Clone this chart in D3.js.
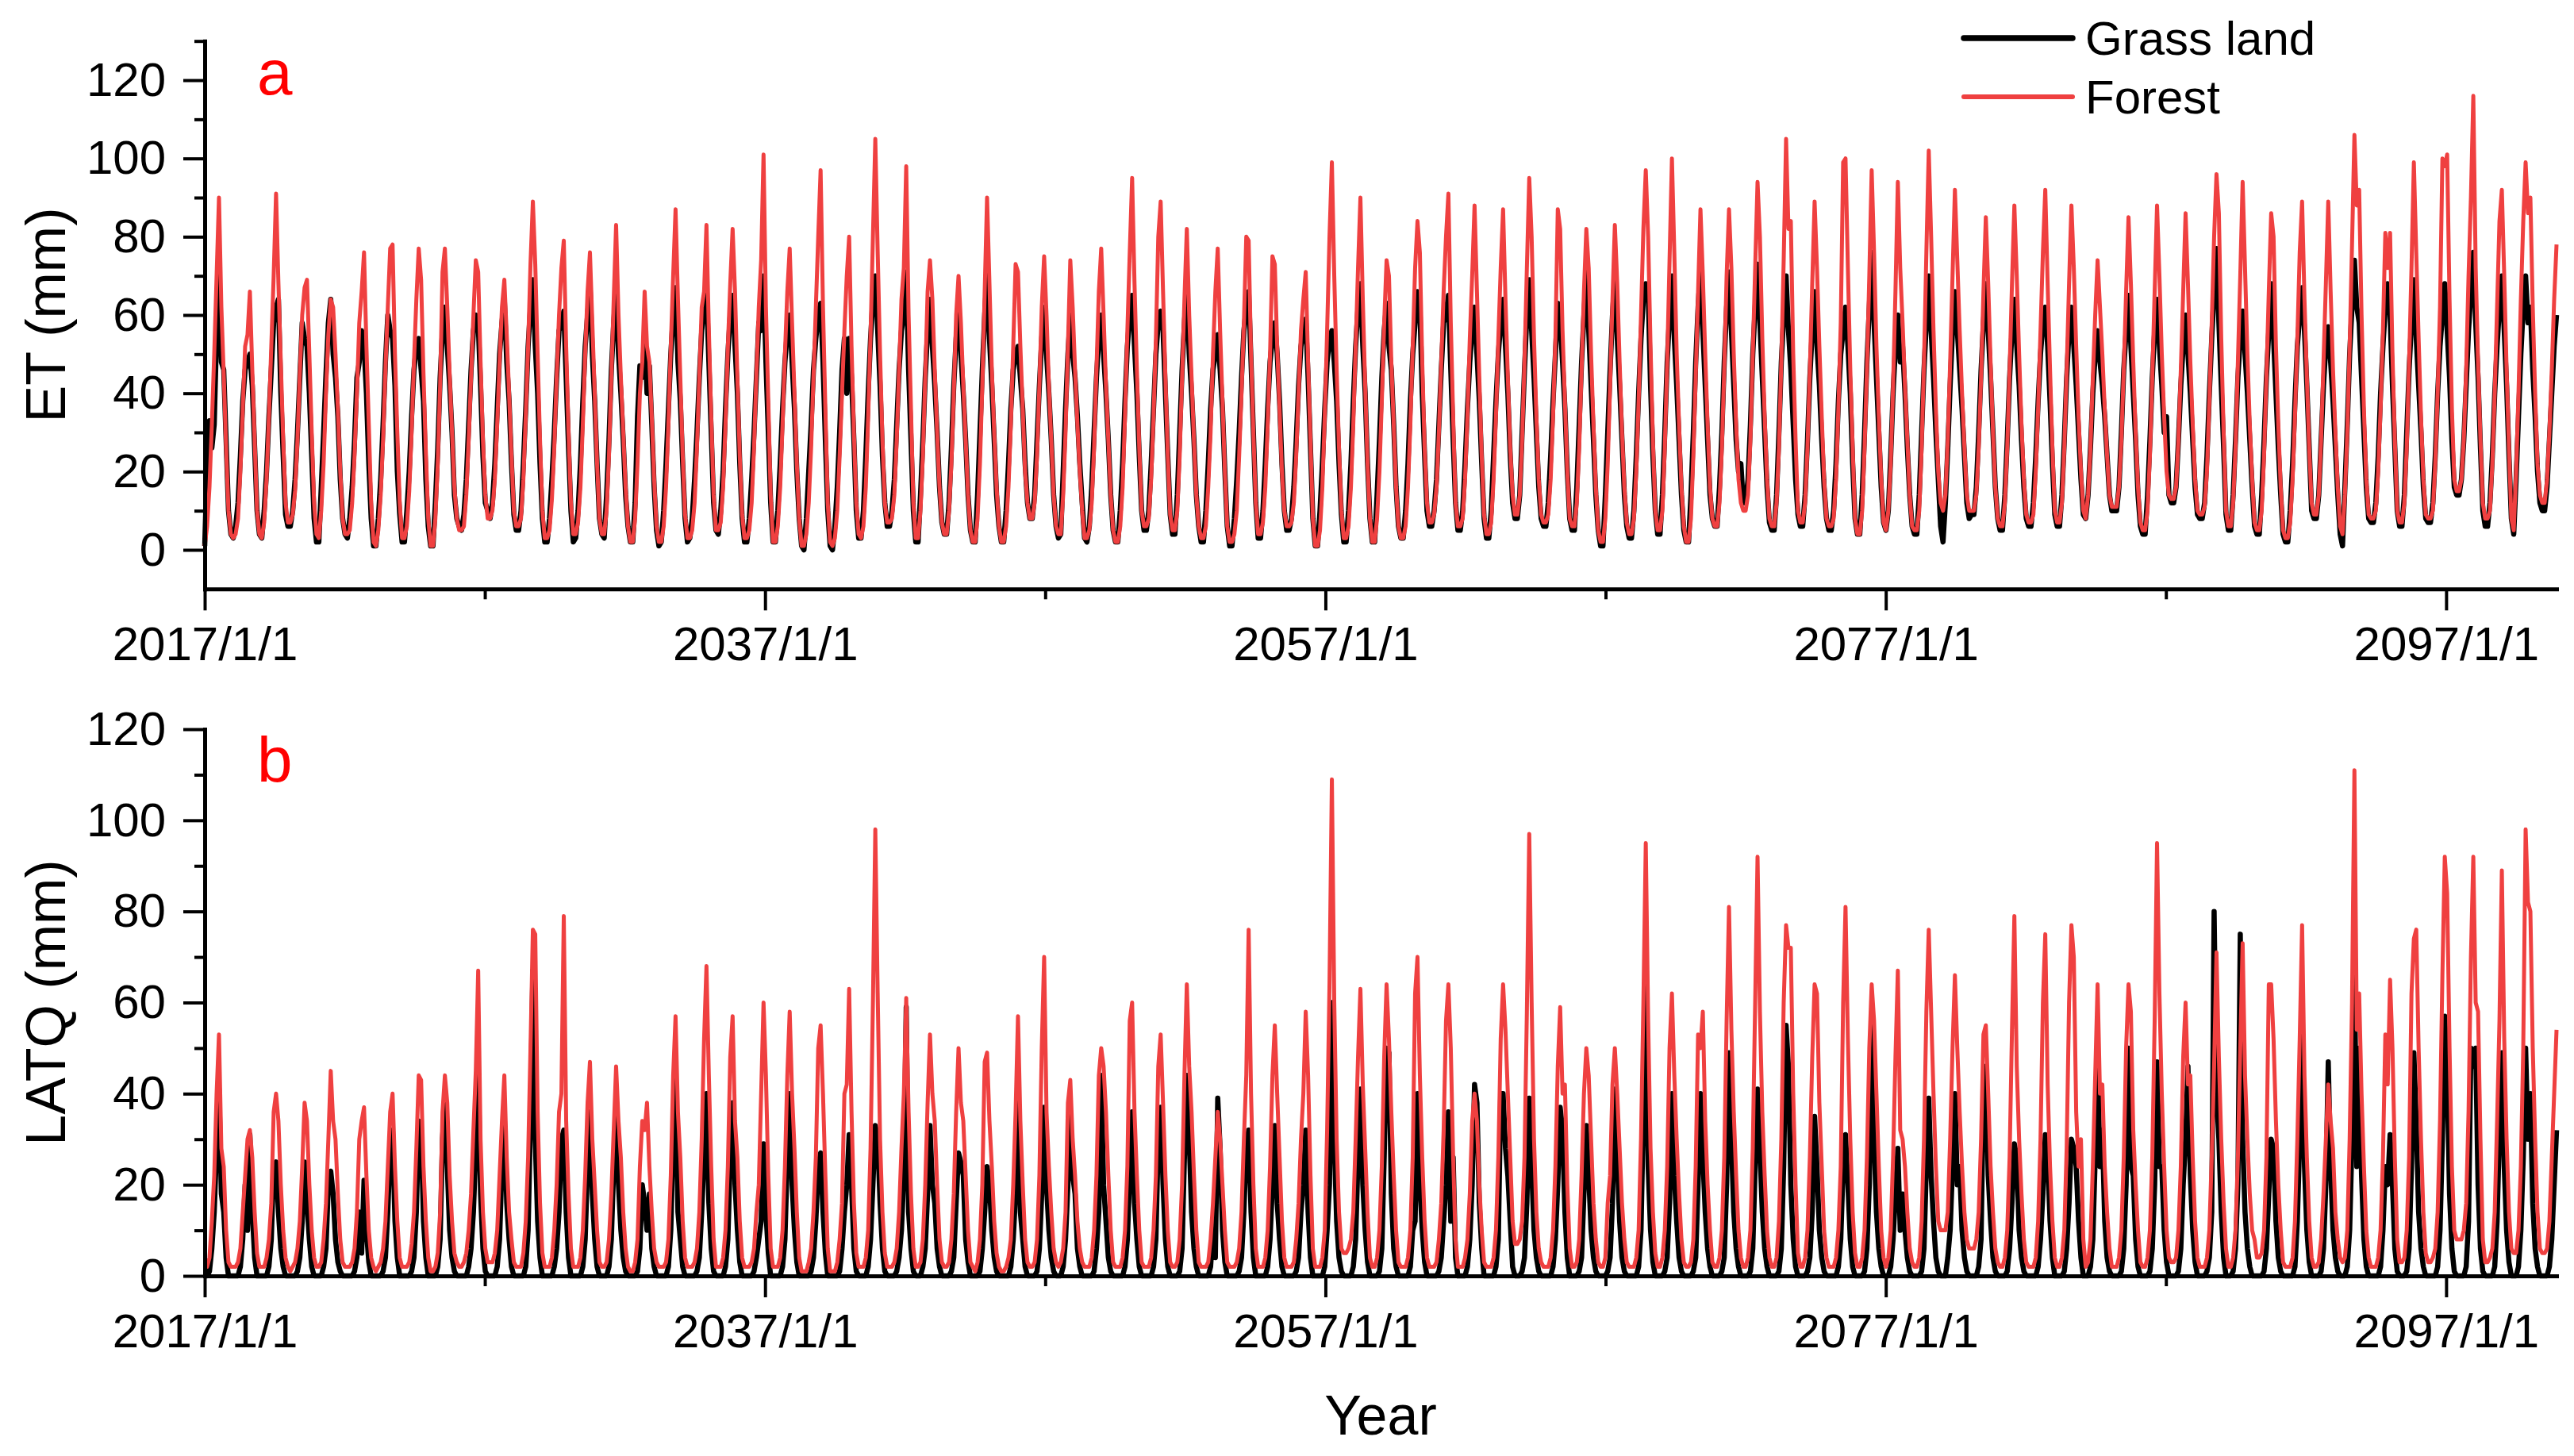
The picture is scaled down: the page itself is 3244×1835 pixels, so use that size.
<!DOCTYPE html>
<html>
<head>
<meta charset="utf-8">
<script src="https://cdn.jsdelivr.net/npm/d3@7"></script>
<style>
  html, body { margin: 0; background: #fff; }
  svg { display: block; }
  text { font-family: "Liberation Sans", Arial, sans-serif; }
</style>
</head>
<body>
<div id="chart"></div>
<script>
// monthly values, one row per year (2017 ...). the source figure places
// consecutive records 31 days apart, so the dates below follow that step.
const etGrass = [
  [1,22,33,26,32,55,72,48,46,28,10,4],
  [3,6,12,24,38,46,48,50,42,26,10,4],
  [3,10,20,34,46,58,62,64,40,24,9,6],
  [6,10,18,30,44,58,54,52,40,24,8,2],
  [2,16,30,45,58,64,50,44,34,18,8,4],
  [3,8,16,28,44,48,56,52,40,22,8,1],
  [1,8,18,32,48,60,56,54,42,20,9,2],
  [2,10,20,34,46,52,54,46,38,18,6,1],
  [1,12,26,44,56,62,52,42,30,14,8,6],
  [5,9,18,32,46,56,60,58,42,24,12,10],
  [8,12,22,36,50,58,64,48,38,22,9,5],
  [5,10,22,36,52,62,69,52,40,22,8,2],
  [2,8,18,30,44,56,58,61,44,26,10,2],
  [3,10,22,38,52,60,68,50,38,22,8,4],
  [3,14,28,46,58,67,50,40,28,14,6,2],
  [2,12,34,47,44,55,40,47,32,16,5,1],
  [2,10,22,36,50,60,67,48,38,22,8,2],
  [3,8,18,30,44,56,62,67,48,30,12,5],
  [4,10,20,36,50,60,65,52,40,22,8,2],
  [2,8,18,30,44,58,56,70,48,30,12,2],
  [2,10,22,36,48,56,60,48,36,20,8,1],
  [0,8,20,32,46,54,60,63,48,28,10,1],
  [0,6,16,30,46,54,40,54,44,28,10,3],
  [3,10,24,40,54,64,70,56,42,24,12,6],
  [6,10,18,32,46,56,60,71,46,28,10,2],
  [2,14,28,44,56,64,52,42,30,16,7,4],
  [4,12,26,42,54,62,50,40,28,14,5,2],
  [2,14,30,46,60,71,54,42,28,14,6,2],
  [2,10,22,36,46,50,52,44,36,22,12,8],
  [8,14,28,42,54,62,50,40,28,14,6,3],
  [4,20,36,50,60,50,44,34,22,12,3,2],
  [6,16,30,44,54,60,50,40,28,14,5,2],
  [2,10,22,38,52,60,65,52,40,24,10,5],
  [5,10,22,36,50,58,61,56,40,24,9,4],
  [4,14,30,46,58,68,50,40,28,14,6,2],
  [2,10,22,36,46,50,55,46,36,20,6,1],
  [1,8,18,30,44,56,62,66,48,30,12,3],
  [3,10,22,36,48,54,58,50,38,22,10,5],
  [5,8,16,28,42,52,56,59,44,26,8,1],
  [1,10,22,36,48,54,56,48,38,22,9,2],
  [2,10,22,38,52,62,68,52,40,22,8,2],
  [2,14,28,44,56,63,52,46,32,16,6,3],
  [3,10,22,38,50,58,66,62,40,24,10,6],
  [6,10,18,32,46,58,60,65,46,28,12,5],
  [5,10,22,36,48,56,62,50,38,22,8,3],
  [3,10,24,38,50,58,64,52,40,24,12,8],
  [8,14,30,46,60,69,56,44,30,16,8,6],
  [6,12,24,38,50,63,58,48,36,20,8,5],
  [5,16,32,48,60,71,56,42,28,14,5,1],
  [1,14,30,46,60,70,54,42,28,14,6,3],
  [3,10,24,40,54,64,68,66,42,24,10,4],
  [4,14,30,48,60,70,54,42,28,14,5,2],
  [2,14,30,48,62,72,56,42,28,14,8,6],
  [6,16,30,48,62,71,56,42,28,20,22,12],
  [12,18,32,50,62,73,58,44,30,16,7,5],
  [5,14,30,48,60,70,56,46,32,18,9,6],
  [6,14,28,44,56,66,52,42,28,16,8,5],
  [5,10,22,38,50,56,62,52,40,22,8,4],
  [4,14,30,48,62,76,58,44,30,16,7,5],
  [10,24,40,52,60,48,52,40,26,14,6,4],
  [4,14,30,46,58,70,56,44,30,18,6,2],
  [12,26,42,56,66,56,46,36,24,12,8,9],
  [9,16,30,46,58,68,56,44,30,16,8,5],
  [5,14,28,44,56,64,52,42,28,16,8,6],
  [6,12,24,38,50,58,62,52,38,22,9,6],
  [6,14,28,44,56,62,52,42,30,18,9,8],
  [14,26,40,50,56,48,42,34,24,14,10,10],
  [10,16,30,46,56,65,52,40,28,14,6,4],
  [4,14,28,44,56,64,52,42,30,34,14,12],
  [12,16,28,42,52,60,50,40,28,16,9,8],
  [8,12,24,40,54,66,77,58,42,26,9,5],
  [5,14,28,44,54,61,50,40,28,16,6,4],
  [4,14,28,44,56,68,54,40,26,14,4,2],
  [2,10,22,38,52,60,67,56,42,26,10,8],
  [8,14,28,42,52,57,48,38,26,14,4,1],
  [16,32,50,62,74,62,58,44,30,16,8,7],
  [7,12,24,40,52,62,68,60,42,26,10,6],
  [6,14,30,46,58,69,54,42,30,16,8,7],
  [7,12,24,40,52,60,68,56,44,28,16,14],
  [14,18,28,42,56,66,76,58,44,26,10,6],
  [6,12,24,40,52,62,70,56,42,24,8,4],
  [18,34,50,62,70,58,62,46,34,20,12,10],
  [10,16,28,40,52,60]
];

const etForest = [
  [1,6,16,32,50,70,90,62,45,26,10,4],
  [3,4,8,20,36,52,55,66,46,28,10,4],
  [3,7,18,34,52,70,91,68,48,28,12,7],
  [7,9,15,28,45,60,67,69,50,30,12,4],
  [3,10,22,40,55,64,62,50,36,20,8,4],
  [4,5,12,24,40,58,66,76,52,32,12,2],
  [1,5,14,28,46,62,77,78,50,30,12,3],
  [3,6,15,30,48,64,77,69,45,25,8,1],
  [1,8,22,42,71,77,62,45,30,16,8,5],
  [5,6,14,28,44,60,74,71,48,28,14,8],
  [8,10,18,32,48,62,69,55,40,24,10,6],
  [6,8,18,34,52,73,89,73,50,28,10,3],
  [3,5,13,26,44,60,72,79,52,30,12,4],
  [4,7,16,32,50,66,76,58,40,22,8,4],
  [4,10,24,44,64,83,60,44,30,16,6,2],
  [2,8,22,40,48,66,52,48,34,18,6,2],
  [2,6,16,32,52,70,87,64,44,24,9,3],
  [3,5,12,26,44,62,66,83,56,34,14,5],
  [5,7,16,32,52,68,82,66,44,24,9,3],
  [3,5,12,26,45,62,74,101,62,38,14,2],
  [2,6,16,32,50,66,77,58,40,22,8,1],
  [1,4,12,26,44,62,80,97,62,36,12,2],
  [1,3,10,24,40,56,70,80,52,30,12,4],
  [3,6,16,34,55,80,105,76,50,28,12,7],
  [7,8,14,28,46,64,72,98,60,36,12,3],
  [3,10,24,44,66,74,64,46,30,16,7,4],
  [4,10,22,40,60,70,58,42,28,14,5,2],
  [2,8,22,42,66,90,68,46,30,16,6,2],
  [2,6,16,32,52,73,71,52,36,20,12,8],
  [8,12,24,42,62,75,60,42,28,14,6,4],
  [4,14,30,52,74,62,46,32,20,10,3,3],
  [5,12,26,46,66,77,60,42,28,14,5,2],
  [2,6,16,34,56,76,95,68,46,26,10,6],
  [6,8,18,34,54,80,89,66,44,24,9,5],
  [5,10,24,44,64,82,60,44,28,14,6,3],
  [3,6,16,30,50,66,77,56,38,20,6,2],
  [2,4,10,24,40,58,80,79,50,30,12,4],
  [4,7,16,32,50,75,73,52,36,20,10,6],
  [6,7,12,24,40,56,64,71,48,28,8,1],
  [1,5,16,34,56,80,99,70,46,26,10,3],
  [3,6,16,32,52,72,90,64,42,22,8,2],
  [2,8,20,38,58,74,70,48,32,16,6,3],
  [3,6,16,32,52,72,84,76,48,26,12,7],
  [7,9,16,30,48,66,80,91,58,34,12,6],
  [6,8,18,34,54,70,88,66,44,24,9,4],
  [4,7,18,34,54,72,87,64,44,26,14,9],
  [9,14,28,48,72,95,80,54,34,18,9,7],
  [7,9,18,34,54,87,82,56,38,20,8,6],
  [6,12,26,46,66,82,72,50,32,16,5,2],
  [2,8,22,42,64,83,68,48,30,16,7,4],
  [4,8,20,38,60,82,97,80,52,28,10,5],
  [5,10,26,48,74,100,76,50,32,16,6,2],
  [2,8,24,44,66,87,70,50,32,16,8,6],
  [6,12,26,46,70,87,72,50,32,18,12,10],
  [10,14,28,50,72,94,80,54,34,18,8,6],
  [6,12,26,48,74,105,82,84,50,28,10,7],
  [7,12,26,46,68,89,72,52,34,18,8,6],
  [6,8,18,36,58,99,100,72,46,26,8,4],
  [4,10,26,46,70,97,76,52,34,18,7,5],
  [10,22,42,66,94,72,58,42,28,14,6,5],
  [5,10,26,48,76,102,80,56,36,20,12,10],
  [14,28,48,70,92,74,56,40,26,14,10,10],
  [10,14,26,44,66,85,68,48,30,16,8,6],
  [6,12,26,46,68,88,70,50,32,18,9,7],
  [7,9,20,36,56,76,92,68,46,26,10,7],
  [7,12,26,46,68,88,72,52,34,20,10,8],
  [14,26,44,60,74,62,50,36,24,14,11,11],
  [11,16,28,46,66,85,68,48,30,16,7,5],
  [5,10,24,44,66,88,70,50,34,20,14,13],
  [13,16,28,46,66,86,68,48,32,18,10,9],
  [9,11,20,38,58,80,96,86,54,30,10,6],
  [6,12,26,48,70,94,72,50,32,18,7,5],
  [5,10,24,44,66,86,80,52,32,16,5,3],
  [3,7,18,34,54,76,89,64,44,26,12,9],
  [9,14,28,48,68,89,66,46,30,16,6,4],
  [14,30,52,78,106,88,92,60,36,18,9,8],
  [8,10,20,36,56,81,72,81,50,28,10,7],
  [7,12,26,48,72,99,76,54,34,18,9,8],
  [8,10,22,40,62,100,98,101,64,36,18,15],
  [15,18,28,46,70,90,116,72,48,28,12,8],
  [8,10,22,40,62,84,92,70,46,26,8,5],
  [20,40,64,84,99,86,90,62,40,22,14,12],
  [12,18,30,46,64,78]
];

const latqGrass = [
  [0,0,1,6,14,28,41,18,14,4,0,0],
  [0,0,0,2,8,20,10,31,14,4,0,0],
  [0,0,0,2,8,24,25,14,6,2,0,0],
  [0,0,0,1,4,12,25,16,8,2,0,0],
  [0,0,2,6,20,23,18,8,3,1,0,0],
  [0,0,0,1,4,14,5,21,10,3,0,0],
  [0,0,0,1,4,14,28,32,12,4,0,0],
  [0,0,0,1,4,14,34,33,12,4,0,0],
  [0,0,2,8,30,39,24,10,4,1,0,0],
  [0,0,0,2,6,14,28,46,18,6,1,0],
  [0,0,0,2,8,24,35,16,8,2,0,0],
  [0,0,0,2,10,34,67,30,12,4,0,0],
  [0,0,0,2,6,14,30,32,14,4,0,0],
  [0,0,0,2,8,24,36,18,8,2,0,0],
  [0,0,2,8,24,35,20,10,4,1,0,0],
  [0,0,1,6,20,16,10,18,6,2,0,0],
  [0,0,0,2,10,30,47,14,8,2,0,0],
  [0,0,0,1,4,14,26,40,16,6,1,0],
  [0,0,0,2,8,26,38,20,10,3,0,0],
  [0,0,0,1,4,8,12,29,14,5,0,0],
  [0,0,0,2,8,26,40,20,10,3,0,0],
  [0,0,0,1,4,12,24,27,14,5,0,0],
  [0,0,0,1,6,14,20,31,20,6,1,0],
  [0,0,0,2,8,20,33,30,16,6,1,0],
  [0,0,0,1,4,10,22,59,14,6,1,0],
  [0,0,2,6,18,33,20,16,6,2,0,0],
  [0,0,1,4,16,27,25,22,8,3,0,0],
  [0,0,1,6,14,24,20,10,4,1,0,0],
  [0,0,0,2,8,18,45,14,8,2,0,0],
  [0,0,1,6,18,37,20,10,4,1,0,0],
  [0,2,8,20,35,22,18,6,2,0,0,0],
  [0,0,1,6,14,44,20,12,4,1,0,0],
  [0,0,0,2,8,22,36,16,8,2,0,0],
  [0,0,0,2,8,30,37,20,8,2,0,0],
  [0,0,1,6,26,44,30,14,6,2,0,0],
  [0,0,0,2,10,4,39,28,10,3,0,0],
  [0,0,0,1,4,14,28,32,14,4,0,0],
  [0,0,0,2,8,20,33,16,8,2,0,0],
  [0,0,0,1,4,14,20,32,14,4,0,0],
  [0,0,0,2,10,20,60,30,12,4,1,0],
  [0,0,0,2,8,26,41,20,10,3,0,0],
  [0,0,1,6,26,50,49,18,6,2,0,0],
  [0,0,0,2,10,12,40,20,10,3,0,0],
  [0,0,0,1,4,12,20,36,12,26,4,0],
  [0,0,0,2,8,20,42,38,16,6,0,0],
  [0,0,0,2,8,40,40,28,22,12,2,0],
  [0,0,1,4,16,39,24,10,4,1,0,0],
  [0,0,0,2,8,20,37,32,14,4,0,0],
  [0,0,1,4,18,33,22,10,4,1,0,0],
  [0,0,1,4,16,41,26,12,4,1,0,0],
  [0,0,0,2,10,36,65,24,10,3,0,0],
  [0,0,1,4,16,40,22,12,4,1,0,0],
  [0,0,1,4,20,40,26,14,6,2,0,0],
  [0,0,1,4,20,49,30,14,6,2,0,0],
  [0,0,1,6,24,41,28,14,6,2,0,0],
  [0,0,1,6,24,55,46,20,8,2,0,0],
  [0,0,1,4,14,35,24,10,4,1,0,0],
  [0,0,0,2,8,24,31,20,8,2,0,0],
  [0,0,1,6,20,55,30,14,6,2,0,0],
  [0,2,8,18,28,10,18,10,4,1,0,0],
  [0,0,1,6,24,39,22,12,4,1,0,0],
  [0,4,10,24,40,20,24,10,4,1,0,0],
  [0,0,2,8,40,46,22,12,4,1,0,0],
  [0,0,1,6,16,29,26,10,4,1,0,0],
  [0,0,0,2,8,18,31,26,12,4,0,0],
  [0,0,1,6,16,30,28,24,12,4,0,0],
  [0,2,8,26,49,24,32,12,4,1,0,0],
  [0,0,1,6,20,50,24,22,8,2,0,0],
  [0,0,1,6,20,47,24,24,10,3,0,0],
  [0,0,1,6,20,30,46,22,10,3,0,0],
  [0,0,1,4,14,80,40,30,14,4,0,0],
  [0,1,6,20,75,30,14,6,2,0,0,0],
  [0,0,1,6,18,30,28,12,4,1,0,0],
  [0,0,0,2,12,30,56,24,10,3,0,0],
  [0,0,1,6,20,47,24,10,4,1,0,0],
  [0,2,10,30,68,24,50,22,8,2,0,0],
  [0,0,0,2,10,24,20,31,20,6,1,0],
  [0,0,1,6,24,49,34,14,6,2,0,0],
  [0,0,0,2,10,30,57,44,18,6,1,0],
  [0,0,0,2,12,50,46,50,20,6,1,0],
  [0,0,0,2,12,32,49,24,10,3,0,0],
  [0,2,10,26,50,30,40,16,6,2,0,0],
  [0,0,2,8,20,32]
];

const latqForest = [
  [2,2,4,12,22,40,53,28,24,10,3,2],
  [2,2,3,6,14,22,30,32,26,14,5,2],
  [2,2,4,8,16,36,40,34,20,10,4,2],
  [1,2,3,6,12,24,38,34,20,10,4,2],
  [2,3,8,16,30,45,34,30,18,8,3,2],
  [2,2,3,6,14,30,34,37,22,10,4,2],
  [1,2,3,6,12,24,36,40,24,12,4,2],
  [2,2,3,7,14,28,44,43,24,12,4,1],
  [1,2,5,14,36,44,38,22,12,5,3,2],
  [2,3,5,10,18,32,45,67,30,14,6,3],
  [3,3,5,10,22,34,44,26,14,8,3,2],
  [2,2,5,12,26,50,76,75,36,16,5,2],
  [2,2,4,10,20,36,40,79,34,18,6,2],
  [2,2,4,10,22,38,47,30,20,10,3,2],
  [2,3,8,18,32,46,34,26,14,6,2,1],
  [1,3,8,24,34,32,38,24,14,6,3,2],
  [2,2,3,8,22,44,57,36,26,12,4,2],
  [2,2,3,6,14,30,52,68,44,24,8,2],
  [2,2,4,10,24,48,57,34,26,12,4,2],
  [2,2,3,6,14,20,40,60,44,22,6,2],
  [2,2,4,10,24,44,58,40,28,14,4,1],
  [1,1,3,6,14,26,50,55,40,22,6,1],
  [1,1,3,8,16,40,42,63,36,16,5,2],
  [2,2,4,10,28,60,98,62,30,14,5,2],
  [2,2,3,6,14,28,40,61,36,18,6,2],
  [2,3,8,20,38,53,40,34,20,8,3,2],
  [2,3,8,18,36,50,38,34,22,10,3,2],
  [1,3,8,20,47,49,34,24,12,5,2,1],
  [1,2,4,8,20,36,57,34,20,8,3,2],
  [2,3,8,22,50,70,36,24,14,6,3,2],
  [3,6,14,38,43,30,22,12,6,3,2,2],
  [2,4,10,22,44,50,46,36,22,10,3,2],
  [2,2,4,10,24,56,60,36,22,10,3,2],
  [2,2,4,10,22,46,53,38,22,10,3,2],
  [2,3,8,20,44,64,46,36,22,10,3,2],
  [2,2,3,8,16,26,36,30,20,10,3,2],
  [2,2,3,6,14,30,44,76,40,20,6,2],
  [2,2,4,10,24,44,55,40,26,12,4,2],
  [2,2,3,8,16,30,40,58,44,22,6,2],
  [2,2,4,10,32,64,109,60,30,14,6,5],
  [5,6,8,14,30,48,63,42,28,14,4,2],
  [2,4,10,24,48,64,52,36,22,10,3,2],
  [2,2,4,10,26,62,70,44,26,12,4,2],
  [2,2,3,8,16,32,56,64,50,26,8,2],
  [2,2,4,8,18,34,40,34,20,10,3,2],
  [2,2,4,10,26,52,64,54,40,26,12,7],
  [7,8,12,26,58,97,60,30,14,6,3,2],
  [2,2,4,10,24,46,59,40,42,20,6,2],
  [2,3,8,22,40,50,44,30,16,8,3,2],
  [2,4,16,22,42,50,40,28,16,8,3,2],
  [2,2,4,10,30,60,95,56,28,14,5,2],
  [2,4,10,24,50,62,44,30,18,8,3,2],
  [2,3,8,24,53,50,58,34,20,10,3,2],
  [2,4,10,26,56,81,54,36,22,10,4,2],
  [2,4,10,28,60,92,58,36,22,10,4,2],
  [2,4,12,30,60,77,72,72,40,20,5,2],
  [2,4,10,26,48,64,62,38,24,10,4,2],
  [2,2,4,10,24,60,81,52,30,14,5,2],
  [2,4,10,26,50,64,56,40,24,10,4,2],
  [4,10,26,48,67,32,30,24,14,6,3,2],
  [2,4,12,30,58,76,58,40,24,12,10,10],
  [10,14,30,50,66,50,36,24,14,8,6,6],
  [6,8,14,30,53,55,40,24,14,6,3,2],
  [2,4,10,26,54,79,46,30,18,8,3,2],
  [2,2,4,12,30,60,75,42,24,12,4,2],
  [2,4,10,28,60,77,70,36,24,30,8,2],
  [3,8,24,44,64,40,42,24,14,6,2,2],
  [2,4,10,26,50,64,58,32,20,10,3,2],
  [2,4,10,26,56,95,62,40,24,10,4,3],
  [3,4,10,24,48,60,42,44,26,12,4,2],
  [2,2,4,10,26,46,71,48,30,16,6,2],
  [2,4,10,26,50,73,44,30,18,10,8,4],
  [4,5,10,26,64,64,52,34,20,10,3,2],
  [2,2,4,12,30,52,77,44,26,12,4,2],
  [2,3,8,18,30,42,34,28,14,8,4,3],
  [4,10,30,60,111,54,62,40,24,10,4,2],
  [2,2,4,10,26,53,42,65,50,26,8,3],
  [3,4,10,26,62,74,76,50,30,14,5,3],
  [3,4,6,14,34,66,92,84,50,24,10,8],
  [8,8,10,16,36,70,92,60,58,30,8,3],
  [3,4,6,14,34,56,89,52,30,14,6,5],
  [5,10,24,50,98,82,80,50,30,14,6,5],
  [5,6,12,26,40,54]
];

const xMajorYears = [2017, 2037, 2057, 2077, 2097];
const xMinorYears = [2027, 2047, 2067, 2087];
const etTicks = [0, 20, 40, 60, 80, 100, 120];
const etMinorTicks = [10, 30, 50, 70, 90, 110, 130];
const latqTicks = [0, 20, 40, 60, 80, 100, 120];
const latqMinorTicks = [10, 30, 50, 70, 90, 110];
const seriesNames = ['Grass land', 'Forest'];
const seriesColors = ['#000000', '#ef4040'];
const seriesWidths = [6.5, 5];

const W = 3244, H = 1835;
const left = 258, right = 3222;
const stepDays = 31;

const start = new Date(2017, 0, 1);
const n = etGrass.flat().length;
const dates = d3.range(n).map(i => d3.timeDay.offset(start, stepDays * i));

const x = d3.scaleTime()
  .domain([start, dates[n - 1]])
  .range([left, right]);

const svg = d3.select('#chart')
  .append('svg')
  .attr('width', W)
  .attr('height', H)
  .attr('viewBox', `0 0 ${W} ${H}`);

function styleAxis(g, fontSize) {
  g.attr('font-family', '"Liberation Sans", Arial, sans-serif')
    .attr('font-size', fontSize);
  g.selectAll('.domain').attr('stroke-width', 5).attr('stroke-linecap', 'square');
  g.selectAll('.tick line').attr('stroke-width', 4);
  g.selectAll('.tick text').attr('fill', '#000');
}

function drawPanel(cfg) {
  const y = d3.scaleLinear().domain(cfg.domain).range(cfg.range);
  const g = svg.append('g');

  const line = d3.line()
    .x((d, i) => x(dates[i]))
    .y(d => y(d));

  [cfg.grass, cfg.forest].forEach((rows, k) => {
    g.append('path')
      .datum(rows.flat())
      .attr('fill', 'none')
      .attr('stroke', seriesColors[k])
      .attr('stroke-width', seriesWidths[k])
      .attr('stroke-linejoin', 'round')
      .attr('d', line);
  });

  const y0 = y(cfg.domain[0]);

  // x axis, major + minor
  g.append('g')
    .attr('transform', `translate(0,${y0})`)
    .call(d3.axisBottom(x)
      .tickValues(xMajorYears.map(yr => new Date(yr, 0, 1)))
      .tickFormat(d3.timeFormat('%Y/%-m/%-d'))
      .tickSize(27)
      .tickSizeOuter(0)
      .tickPadding(20))
    .call(ax => styleAxis(ax, 60));

  g.append('g')
    .attr('transform', `translate(0,${y0})`)
    .call(d3.axisBottom(x)
      .tickValues(xMinorYears.map(yr => new Date(yr, 0, 1)))
      .tickFormat('')
      .tickSize(13)
      .tickSizeOuter(0))
    .call(ax => { styleAxis(ax, 60); ax.select('.domain').remove(); });

  // y axis, major + minor
  g.append('g')
    .attr('transform', `translate(${left},0)`)
    .call(d3.axisLeft(y)
      .tickValues(cfg.ticks)
      .tickSize(27)
      .tickSizeOuter(0)
      .tickPadding(22))
    .call(ax => styleAxis(ax, 60));

  g.append('g')
    .attr('transform', `translate(${left},0)`)
    .call(d3.axisLeft(y)
      .tickValues(cfg.minor)
      .tickFormat('')
      .tickSize(13)
      .tickSizeOuter(0))
    .call(ax => { styleAxis(ax, 60); ax.select('.domain').remove(); });

  const yMid = (cfg.range[0] + cfg.range[1]) / 2;
  g.append('text')
    .attr('transform', `translate(82,${yMid}) rotate(-90)`)
    .attr('text-anchor', 'middle')
    .attr('font-size', 70)
    .text(cfg.title);

  g.append('text')
    .attr('x', 324)
    .attr('y', cfg.letterY)
    .attr('fill', '#ff0000')
    .attr('font-size', 80)
    .text(cfg.letter);
}

drawPanel({
  grass: etGrass,
  forest: etForest,
  domain: [-10, 130],
  range: [742.3, 51.7],
  ticks: etTicks,
  minor: etMinorTicks,
  title: 'ET (mm)',
  letter: 'a',
  letterY: 119
});

drawPanel({
  grass: latqGrass,
  forest: latqForest,
  domain: [0, 120],
  range: [1608, 919],
  ticks: latqTicks,
  minor: latqMinorTicks,
  title: 'LATQ (mm)',
  letter: 'b',
  letterY: 985
});

svg.append('text')
  .attr('x', (left + right) / 2)
  .attr('y', 1808)
  .attr('text-anchor', 'middle')
  .attr('font-size', 70)
  .text('Year');

// legend
const legend = svg.append('g');
seriesNames.forEach((name, i) => {
  const ly = 48 + i * 74;
  legend.append('line')
    .attr('x1', 2475).attr('x2', 2612)
    .attr('y1', ly).attr('y2', ly)
    .attr('stroke', seriesColors[i])
    .attr('stroke-width', seriesWidths[i] + 1)
    .attr('stroke-linecap', 'round');
  legend.append('text')
    .attr('x', 2628)
    .attr('y', ly + 21)
    .attr('font-size', 60)
    .text(name);
});
</script>
</body>
</html>
